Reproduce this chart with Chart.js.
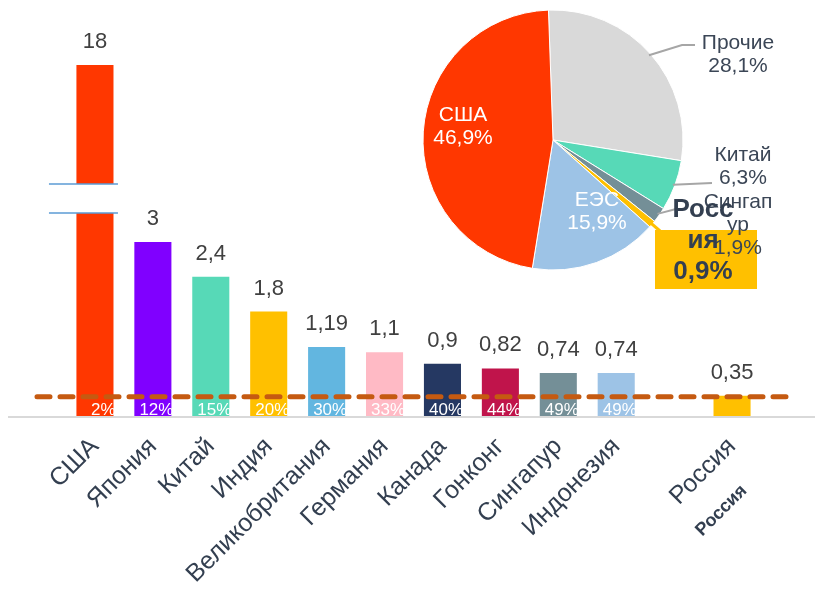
<!DOCTYPE html>
<html>
<head>
<meta charset="utf-8">
<script src="https://cdn.jsdelivr.net/npm/chart.js@4/dist/chart.umd.min.js"></script>
<style>
html, body { margin: 0; padding: 0; background: #fff; }
#wrap { position: relative; width: 815px; height: 594px; }
#barChart { position: absolute; left: 0; top: 0; }
#pieChart { position: absolute; left: 410px; top: 0; }
</style>
</head>
<body>
<div id="wrap">
  <canvas id="barChart" width="815" height="594"></canvas>
  <canvas id="pieChart" width="405" height="300"></canvas>
</div>
<script>
// bar chart data
var countries = ['США', 'Япония', 'Китай', 'Индия', 'Великобритания', 'Германия', 'Канада', 'Гонконг', 'Сингапур', 'Индонезия', '', 'Россия'];
var values = [18, 3, 2.4, 1.8, 1.19, 1.1, 0.9, 0.82, 0.74, 0.74, null, 0.35];
var valueLabels = ['18', '3', '2,4', '1,8', '1,19', '1,1', '0,9', '0,82', '0,74', '0,74', '', '0,35'];
var shareLabels = ['2%', '12%', '15%', '20%', '30%', '33%', '40%', '44%', '49%', '49%', '', ''];
var barColors = ['#FF3700', '#8000FF', '#57D9B7', '#FFC000', '#62B6E0', '#FFBAC5', '#253862', '#C0144B', '#748F97', '#9DC3E6', '#ffffff', '#FFC000'];
var breakFrom = 3.5, breakTo = 4.0, visibleMax = 6.05; // broken axis on the USA bar
var refLevel = 0.33; // dashed line

// pie data
var pieLabels = ['Прочие', 'Китай', 'Сингапур', 'Россия', 'ЕЭС', 'США'];
var pieShares = [28.1, 6.3, 1.9, 0.9, 15.9, 46.9];
var pieColors = ['#D9D9D9', '#57D9B7', '#748F97', '#FFC000', '#9DC3E6', '#FF3700'];
var pieTexts = [['Прочие', '28,1%'], ['Китай', '6,3%'], ['Сингап', 'ур', '1,9%'], ['Росс', 'ия', '0,9%'], ['ЕЭС', '15,9%'], ['США', '46,9%']];

var FONT = '"Liberation Sans", Arial, sans-serif';
var TEXT_DARK = '#333F50';

var barDecor = {
    id: 'barDecor',
    afterDatasetsDraw: function (chart) {
        var ctx = chart.ctx, area = chart.chartArea;
        var y = chart.scales.y;
        var bars = chart.getDatasetMeta(0).data;
        ctx.save();

        // axis break on the first bar
        var b0 = bars[0];
        var yTop = y.getPixelForValue(breakTo), yBot = y.getPixelForValue(breakFrom);
        ctx.fillStyle = '#fff';
        ctx.fillRect(b0.x - b0.width / 2 - 1, yTop, b0.width + 2, yBot - yTop);
        ctx.strokeStyle = '#5B9BD5';
        ctx.lineWidth = 1.5;
        [yTop, yBot].forEach(function (py) {
            ctx.beginPath();
            ctx.moveTo(b0.x - 46, py);
            ctx.lineTo(b0.x + 23, py);
            ctx.stroke();
        });

        // share labels, cut by the axis
        ctx.save();
        ctx.beginPath();
        ctx.rect(0, area.top, chart.width, area.bottom - area.top);
        ctx.clip();
        ctx.font = '17px ' + FONT;
        ctx.fillStyle = '#fff';
        ctx.textAlign = 'right';
        ctx.textBaseline = 'top';
        bars.forEach(function (b, i) {
            if (shareLabels[i]) ctx.fillText(shareLabels[i], b.x + b.width / 2 + 2, area.bottom - 14);
        });
        ctx.restore();

        // value labels
        ctx.font = '22px ' + FONT;
        ctx.fillStyle = '#404040';
        ctx.textAlign = 'center';
        ctx.textBaseline = 'alphabetic';
        bars.forEach(function (b, i) {
            if (valueLabels[i]) ctx.fillText(valueLabels[i], b.x, b.y - 17);
        });

        // dashed level
        var ry = y.getPixelForValue(refLevel);
        ctx.setLineDash([13, 10]);
        ctx.lineCap = 'round';
        ctx.lineWidth = 5;
        ctx.strokeStyle = '#C55A11';
        ctx.beginPath();
        ctx.moveTo(37, ry);
        ctx.lineTo(788, ry);
        ctx.stroke();
        ctx.setLineDash([]);

        // axis line
        ctx.lineCap = 'butt';
        ctx.lineWidth = 2;
        ctx.strokeStyle = '#D9D9D9';
        ctx.beginPath();
        ctx.moveTo(8, area.bottom + 1);
        ctx.lineTo(815, area.bottom + 1);
        ctx.stroke();

        // second (bold) label under Russia
        var tx = chart.scales.x.getPixelForTick(11);
        ctx.translate(tx + 12, area.bottom + 72);
        ctx.rotate(-Math.PI / 4);
        ctx.font = 'bold 18px ' + FONT;
        ctx.fillStyle = TEXT_DARK;
        ctx.textAlign = 'right';
        ctx.textBaseline = 'middle';
        ctx.fillText('Россия', 0, 0);
        ctx.restore();
    }
};

new Chart(document.getElementById('barChart').getContext('2d'), {
    type: 'bar',
    data: {
        labels: countries,
        datasets: [{
            data: values.map(function (v) { return v === null ? null : Math.min(v, visibleMax); }),
            backgroundColor: barColors,
            categoryPercentage: 1,
            barPercentage: 0.64
        }]
    },
    options: {
        responsive: false,
        animation: false,
        devicePixelRatio: 1,
        layout: { padding: { left: 66, right: 54, top: 10, bottom: 0 } },
        plugins: { legend: { display: false }, tooltip: { enabled: false } },
        scales: {
            x: {
                grid: { display: false },
                border: { display: false },
                ticks: {
                    autoSkip: false,
                    minRotation: 45,
                    maxRotation: 45,
                    padding: 8,
                    color: TEXT_DARK,
                    font: { family: FONT, size: 25 }
                },
                afterFit: function (axis) { axis.height = 178; }
            },
            y: { display: false, min: 0, max: 7 }
        }
    },
    plugins: [barDecor]
});

// pie label anchors (pie canvas coords) and leader line ends
var pieLabelPos = [[328, 43], [333, 155], [328, 202], [293, 210], [187, 200], [53, 115]];
var pieLineEnds = [[[272, 45], [285, 45]], [[302, 183]], [[266, 209]], [[250, 231]], null, null];

var pieDecor = {
    id: 'pieDecor',
    afterDatasetsDraw: function (chart) {
        var ctx = chart.ctx;
        var arcs = chart.getDatasetMeta(0).data;
        ctx.save();
        // leader lines
        arcs.forEach(function (a, i) {
            if (!pieLineEnds[i]) return;
            var mid = (a.startAngle + a.endAngle) / 2;
            var r = a.outerRadius - 2;
            ctx.beginPath();
            ctx.moveTo(a.x + Math.cos(mid) * r, a.y + Math.sin(mid) * r);
            pieLineEnds[i].forEach(function (p) { ctx.lineTo(p[0], p[1]); });
            ctx.strokeStyle = i === 3 ? '#FFC000' : '#A6A6A6';
            ctx.lineWidth = i === 3 ? 3 : 2;
            ctx.stroke();
        });
        // Russia box
        ctx.fillStyle = '#FFC000';
        ctx.fillRect(245, 230, 102, 59);

        ctx.textAlign = 'center';
        ctx.textBaseline = 'middle';
        pieTexts.forEach(function (lines, i) {
            var bold = i === 3;
            var lh = bold ? 31 : 23;
            ctx.font = (bold ? 'bold 26px ' : '21px ') + FONT;
            ctx.fillStyle = (i >= 4) ? '#ffffff' : (bold ? TEXT_DARK : '#3B4656');
            lines.forEach(function (t, k) {
                ctx.fillText(t, pieLabelPos[i][0], pieLabelPos[i][1] + k * lh);
            });
        });
        ctx.restore();
    }
};

new Chart(document.getElementById('pieChart').getContext('2d'), {
    type: 'pie',
    data: {
        labels: pieLabels,
        datasets: [{
            data: pieShares,
            backgroundColor: pieColors,
            borderColor: '#ffffff',
            borderWidth: 1,
            hoverOffset: 0
        }]
    },
    options: {
        responsive: false,
        animation: false,
        devicePixelRatio: 1,
        radius: 130,
        rotation: -2,
        layout: { padding: { left: 13, top: 10, right: 132, bottom: 30 } },
        plugins: { legend: { display: false }, tooltip: { enabled: false } }
    },
    plugins: [pieDecor]
});
</script>
</body>
</html>
